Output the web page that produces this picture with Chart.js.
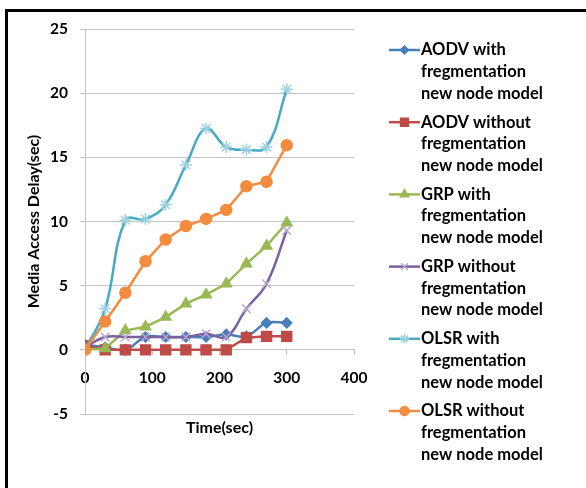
<!DOCTYPE html>
<html>
<head>
<meta charset="utf-8">
<script src="https://cdn.jsdelivr.net/npm/chart.js@4.4.1/dist/chart.umd.min.js"></script>
<style>
  html, body { margin: 0; padding: 0; background: #fff; overflow: hidden; }
  #wrap { position: relative; width: 586px; height: 488px; }
  #frame {
    position: absolute; left: 5px; top: 9px; width: 620px; height: 520px;
    border-top: 3px solid #000; border-left: 3px solid #000;
  }
  #chart { position: absolute; left: 0; top: 0; }
</style>
</head>
<body>
<div id="wrap">
  <div id="frame"></div>
  <canvas id="chart" width="586" height="488"></canvas>
</div>
<script>
// time axis (sec)
const times = [0, 30, 60, 90, 120, 150, 180, 210, 240, 270, 300];

// media access delay (sec)
const aodvWith     = [0.4, 0.2, 0.0, 1.0, 1.0, 1.0, 1.0, 1.2, 1.05, 2.1, 2.1];
const aodvWithout  = [0.3, 0.0, 0.0, 0.0, 0.0, 0.0, 0.0, 0.0, 0.95, 1.05, 1.05];
const grpWith      = [0.0, 0.1, 1.5, 1.8, 2.55, 3.6, 4.3, 5.15, 6.7, 8.1, 9.9];
const grpWithout   = [0.2, 1.0, 1.0, 1.0, 1.0, 1.0, 1.25, 1.0, 3.2, 5.15, 9.3];
const olsrWith     = [0.0, 3.2, 10.1, 10.2, 11.3, 14.4, 17.25, 15.8, 15.6, 15.8, 20.3];
const olsrWithout  = [0.0, 2.2, 4.45, 6.9, 8.6, 9.65, 10.2, 10.9, 12.75, 13.1, 15.95];

const seriesNames = [
  ['AODV with', 'fregmentation', 'new node model'],
  ['AODV without', 'fregmentation', 'new node model'],
  ['GRP with', 'fregmentation', 'new node model'],
  ['GRP without', 'fregmentation', 'new node model'],
  ['OLSR with', 'fregmentation', 'new node model'],
  ['OLSR without', 'fregmentation', 'new node model']
];
const yTicks = [-5, 0, 5, 10, 15, 20, 25];
const xTicks = [0, 100, 200, 300, 400];

const FONT = 'Lato, "Liberation Sans", sans-serif';

function toPoints(values) {
  return values.map((v, i) => ({ x: times[i], y: v }));
}

const styles = [
  { color: '#4A7EBB', point: '#4A7EBB', style: 'rectRot', r: 5, tension: 0.4 },
  { color: '#BE4B48', point: '#BE4B48', style: 'rect', r: 7, tension: 0 },
  { color: '#98B954', point: '#98B954', style: 'triangle', r: 6, tension: 0 },
  { color: '#7D60A0', point: '#B7A7CF', style: 'crossRot', r: 6, tension: 0.4 },
  { color: '#46AAC5', point: '#9BD1E0', style: 'star', r: 6, tension: 0.4 },
  { color: '#F38C3E', point: '#F38C3E', style: 'circle', r: 5.5, tension: 0 }
];

const seriesValues = [aodvWith, aodvWithout, grpWith, grpWithout, olsrWith, olsrWithout];

const datasets = seriesValues.map((vals, i) => {
  const s = styles[i];
  return {
    label: seriesNames[i].join(' '),
    data: toPoints(vals),
    borderColor: s.color,
    backgroundColor: s.point,
    pointBackgroundColor: s.point,
    pointBorderColor: s.point,
    pointStyle: s.style,
    pointRadius: s.r,
    pointBorderWidth: 1.5,
    borderWidth: 2.5,
    tension: s.tension,
    order: 6 - i
  };
});

// legend drawn on the canvas so each entry can wrap onto three lines
const sideLegend = {
  id: 'sideLegend',
  afterDraw(chart) {
    const ctx = chart.ctx;
    ctx.save();
    datasets.forEach((ds, i) => {
      const s = styles[i];
      const y0 = 50 + i * 72.2;
      ctx.strokeStyle = s.color;
      ctx.lineWidth = 2.5;
      ctx.beginPath();
      ctx.moveTo(389, y0);
      ctx.lineTo(420, y0);
      ctx.stroke();
      ctx.fillStyle = s.point;
      ctx.strokeStyle = s.point;
      ctx.lineWidth = 1.5;
      Chart.helpers.drawPoint(ctx, { pointStyle: s.style, radius: s.r * 0.8, rotation: 0, borderWidth: 1.5 }, 404.5, y0);
      ctx.fillStyle = '#000';
      ctx.font = 'bold 16.5px ' + FONT;
      ctx.textBaseline = 'middle';
      ctx.textAlign = 'left';
      seriesNames[i].forEach((line, k) => ctx.fillText(line, 421, y0 + k * 21.7));
    });
    ctx.restore();
  }
};

new Chart(document.getElementById('chart').getContext('2d'), {
  type: 'line',
  data: { datasets },
  options: {
    responsive: false,
    animation: false,
    layout: { padding: { top: 29, right: 232, bottom: 74, left: 0 } },
    plugins: { legend: { display: false }, tooltip: { enabled: false } },
    scales: {
      x: {
        type: 'linear',
        position: { y: 0 },
        min: 0, max: 400,
        afterBuildTicks: s => { s.ticks = xTicks.map(v => ({ value: v })); },
        grid: { drawOnChartArea: false, drawTicks: true, tickLength: 5, color: '#c4c4c4' },
        border: { color: '#c4c4c4', width: 1 },
        ticks: { color: '#000', padding: 14, maxRotation: 0, font: { family: FONT, size: 15.5, weight: 'bold' } },
        title: { display: true, text: 'Time(sec)', color: '#000', padding: { top: 17, bottom: 0 }, font: { family: FONT, size: 16, weight: 'bold' } }
      },
      y: {
        type: 'linear',
        min: -5, max: 25,
        afterBuildTicks: s => { s.ticks = yTicks.map(v => ({ value: v })); },
        afterFit: s => { s.width = 85; },
        grid: { color: '#c4c4c4', tickLength: 5, drawTicks: true },
        border: { color: '#c4c4c4', width: 1 },
        ticks: { color: '#000', padding: 12, font: { family: FONT, size: 15.5, weight: 'bold' } },
        title: { display: true, text: 'Media Access Delay(sec)', color: '#000', padding: { top: 24, bottom: 0 }, font: { family: FONT, size: 16, weight: 'bold' } }
      }
    }
  },
  plugins: [sideLegend]
});
</script>
</body>
</html>
